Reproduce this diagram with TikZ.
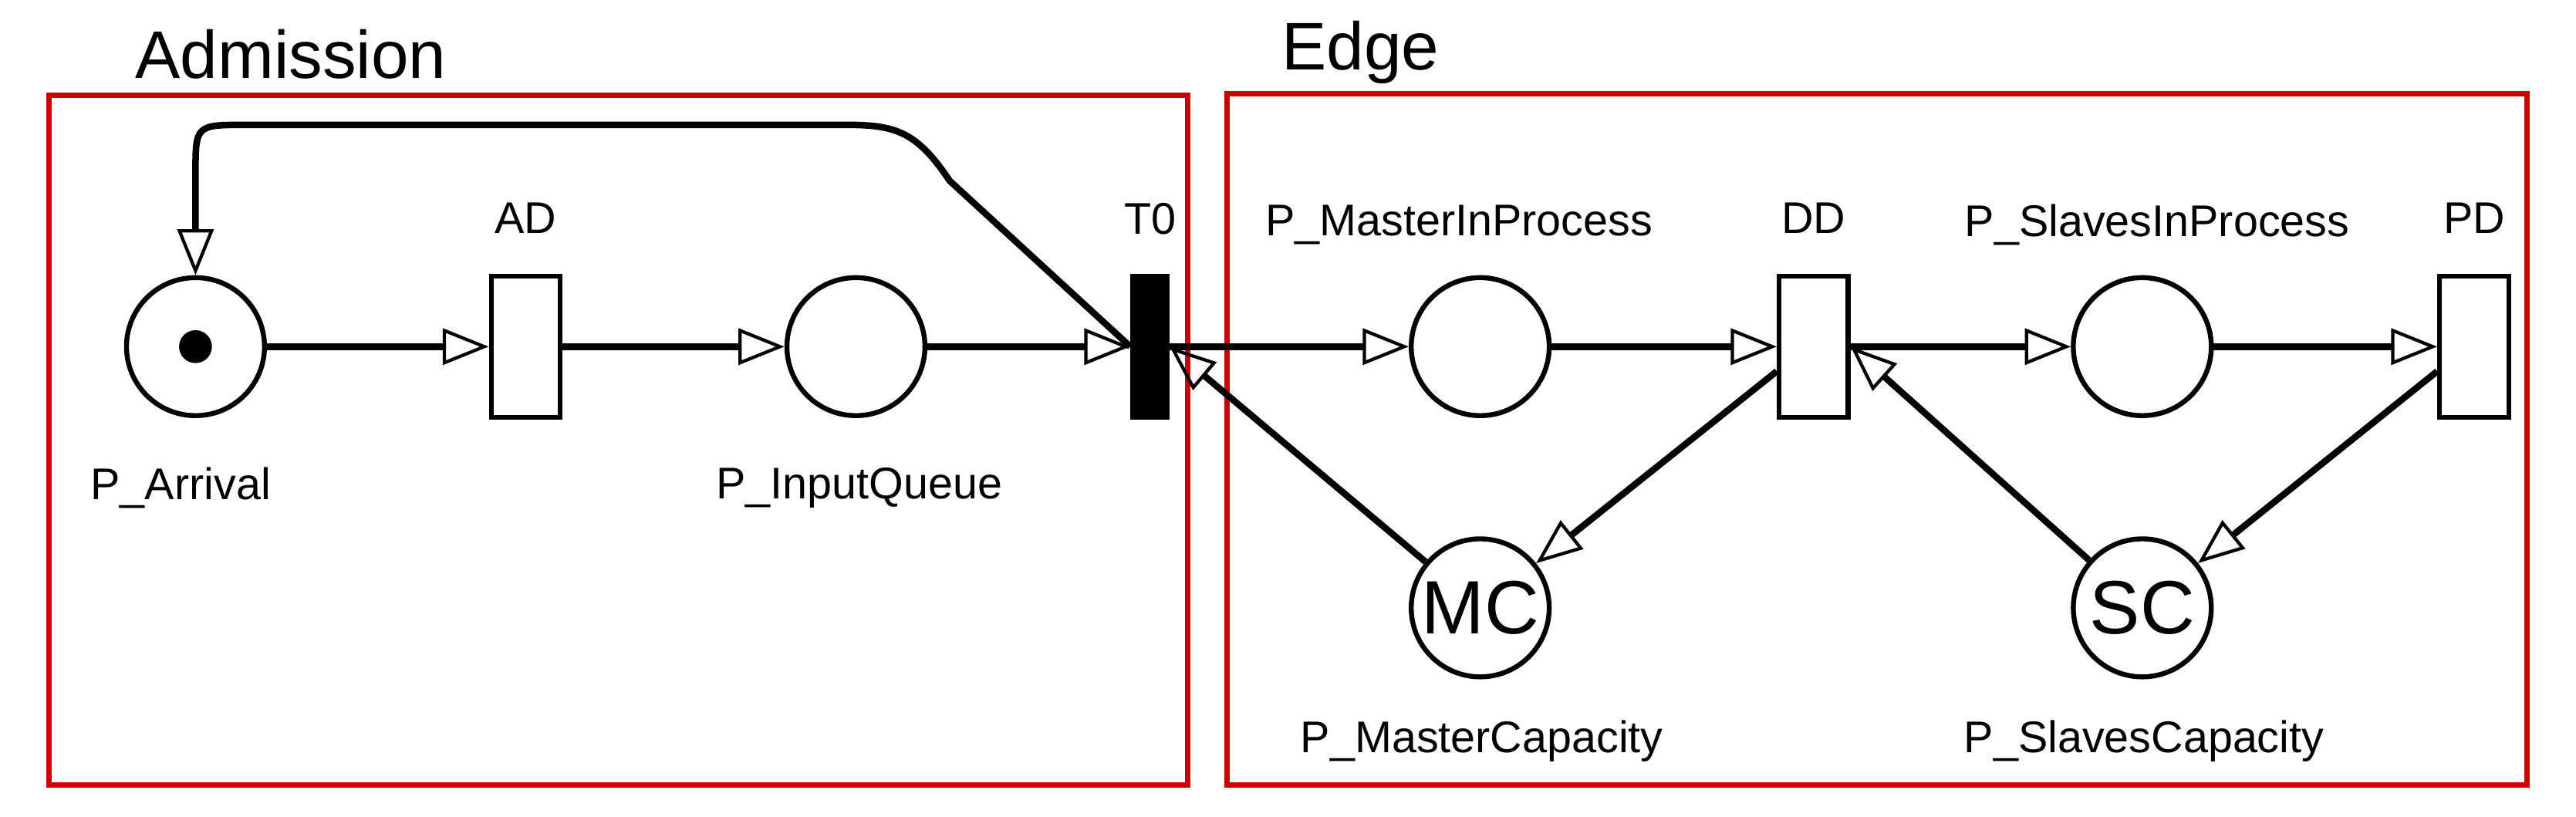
\documentclass[tikz,border=0pt]{standalone}
\usepackage{fontspec}
\setmainfont{Liberation Sans}
\usetikzlibrary{arrows.meta}
\definecolor{boxred}{RGB}{204,0,0}
\begin{document}
\begin{tikzpicture}[x=0.5pt,y=-0.5pt,
  place/.style={circle,draw,line width=1.5pt,minimum size=42pt,inner sep=0pt,font=\fontsize{23}{23}\selectfont},
  trans/.style={rectangle,draw,line width=1.5pt,minimum width=21pt,minimum height=43pt,inner sep=0pt},
  lbl/.style={font=\fontsize{13.5}{15}\selectfont,inner sep=0pt},
  ttl/.style={font=\fontsize{20.5}{23}\selectfont,inner sep=0pt},
  box/.style={draw=boxred,line width=1.6pt},
  arc/.style={line width=2pt,-{Triangle[open,length=14pt,width=11pt,line width=1pt]}}]
\useasboundingbox (0,0) rectangle (1568,497);
\draw[box] (30,58) rectangle (723,478);
\draw[box] (747,57) rectangle (1538,478);
\node[ttl] (tadm) at (177,33) {Admission};
\node[ttl] (tedge) at (828,32) {Edge};
\node[place] (pa) at (119,211) {};
\fill (pa.center) circle (5pt);
\node[trans] (ad) at (320,211) {};
\node[place] (pq) at (521,211) {};
\node[trans,fill=black,minimum width=10.5pt] (t0) at (700,211) {};
\node[place] (pm) at (901,211) {};
\node[trans] (dd) at (1104,211) {};
\node[place] (ps) at (1304,211) {};
\node[trans] (pd) at (1506,211) {};
\node[place] (mc) at (901,370) {MC};
\node[place] (sc) at (1304,370) {SC};
\node[lbl] (lad) at (320,133) {AD};
\node[lbl] (lt0) at (700,133) {T0};
\node[lbl] (ldd) at (1104,133) {DD};
\node[lbl] (lpd) at (1506,133) {PD};
\node[lbl] (lpm) at (888,137) {P\_MasterInProcess};
\node[lbl] (lps) at (1313,137) {P\_SlavesInProcess};
\node[lbl] (lpa) at (110,297) {P\_Arrival};
\node[lbl] (lpq) at (523,297) {P\_InputQueue};
\node[lbl] (lmc) at (902,451) {P\_MasterCapacity};
\node[lbl] (lsc) at (1305,451) {P\_SlavesCapacity};
\draw[arc] (pa) -- (ad);
\draw[arc] (ad) -- (pq);
\draw[arc] (pq) -- (t0);
\draw[arc] (t0) -- (pm);
\draw[arc] (pm) -- (dd);
\draw[arc] (dd) -- (ps);
\draw[arc] (ps) -- (pd);
\draw[arc] (dd.west) ++(0,15) coordinate (ddo) (ddo) -- (mc);
\draw[arc] (mc) -- (t0.east);
\draw[arc] (pd.west) ++(0,15) coordinate (pdo) (pdo) -- (sc);
\draw[arc] (sc) -- (dd.east);
\coordinate (c1) at (578,110);
\draw[arc] (t0.west) -- (c1) .. controls (558,80) and (545,76) .. (515,76) -- (150,76) .. controls (119,76) .. (119,106) -- (pa.north);
\end{tikzpicture}
\end{document}
